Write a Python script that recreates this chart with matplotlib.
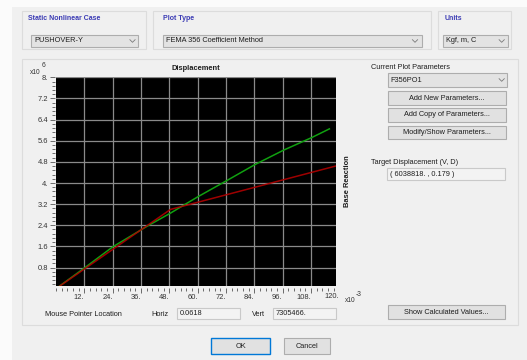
import matplotlib
matplotlib.use("Agg")
import matplotlib.pyplot as plt
from matplotlib.patches import Rectangle
from matplotlib.ticker import FixedLocator, MultipleLocator, FuncFormatter

plt.rcParams['font.family'] = ['Liberation Sans', 'DejaVu Sans']

# ---------------- data ----------------
# Pushover capacity curve (displacement in m, base reaction in kgf)
curve_disp = [0.0, 0.012, 0.024, 0.0389, 0.0487, 0.0537, 0.0603, 0.0725, 0.0843, 0.0963, 0.1083, 0.1158]
curve_shear = [0.0, 0.78e6, 1.58e6, 2.38e6, 2.87e6, 3.14e6, 3.49e6, 4.10e6, 4.70e6, 5.24e6, 5.72e6, 6.05e6]
# FEMA 356 bilinear idealisation
bilin_disp = [0.0, 0.0485, 0.1188]
bilin_shear = [0.0, 3.0e6, 4.65e6]

x_ticks = [12, 24, 36, 48, 60, 72, 84, 96, 108]   # x10^-3
x_extra_tick = 120
y_ticks = [0.8, 1.6, 2.4, 3.2, 4.0, 4.8, 5.6, 6.4, 7.2, 8.0]  # x10^6

case_name = "PUSHOVER-Y"
plot_type = "FEMA 356 Coefficient Method"
units = "Kgf, m, C"
param_name = "F356PO1"
target_text = "( 6038818. , 0.179 )"
horiz_val = "0.0618"
vert_val = "7305466."

W, H = 527, 360
fig = plt.figure(figsize=(W / 100, H / 100), dpi=100)
fig.patch.set_facecolor('#f0f0f0')

bg = fig.add_axes([0, 0, 1, 1])
bg.set_xlim(0, W)
bg.set_ylim(H, 0)
bg.set_axis_off()

FS = 5.3
TXT = '#1e1e1e'
BLUE = '#3a3ab4'


def rect(x0, y0, x1, y1, fc='none', ec='#d9d9d9', lw=0.8, z=1):
    bg.add_patch(Rectangle((x0, y0), x1 - x0, y1 - y0, facecolor=fc,
                           edgecolor=ec, linewidth=lw, zorder=z))


def chevron(x, y):
    bg.plot([x - 2.6, x, x + 2.6], [y - 1.3, y + 1.3, y - 1.3], color='#7a7a7a',
            lw=0.6, zorder=3)


def text(x, y, s, ha='left', color=TXT, size=FS, weight='normal', rot=0, z=4):
    bg.text(x, y, s, ha=ha, va='center', color=color, fontsize=size,
            fontweight=weight, rotation=rot, zorder=z)


# window background strips
rect(0, 0, W, 7, fc='#fbfbfb', ec='none', lw=0, z=0)
rect(0, 0, 12, H, fc='#fbfbfb', ec='none', lw=0, z=0)

# ---------- top group boxes ----------
groups = [(22, 146, "Static Nonlinear Case", 28),
          (153, 431, "Plot Type", 163),
          (438, 511, "Units", 445)]
for x0, x1, lab, lx in groups:
    rect(x0, 11, x1, 49, fc='#f0f0f0', ec='#dcdcdc', z=1)
    text(lx, 18.5, lab, color=BLUE, weight='bold', size=5.0)

combos = [(31, 137.5, case_name, 132.5),
          (162.7, 421.7, plot_type, 415),
          (443.3, 508.3, units, 501.7)]
for x0, x1, s, cx in combos:
    rect(x0, 35, x1, 47, fc='#e3e3e3', ec='#adadad', z=2)
    text(x0 + 3, 41, s)
    chevron(cx, 41)

# ---------- main panel ----------
rect(22, 59, 518, 325, fc='#f0f0f0', ec='#dcdcdc', z=1)

text(371, 67.3, "Current Plot Parameters")
rect(387.7, 73, 506.7, 86.7, fc='#e3e3e3', ec='#adadad', z=2)
text(390, 80, param_name)
chevron(501.7, 80)

buttons = [(91, 105, "Add New Parameters..."),
           (108, 121.7, "Add Copy of Parameters..."),
           (125.7, 139, "Modify/Show Parameters...")]
for y0, y1, s in buttons:
    rect(388, y0, 506, y1, fc='#e1e1e1', ec='#adadad', z=2)
    text(447, (y0 + y1) / 2, s, ha='center')

text(371, 162.7, "Target Displacement (V, D)")
rect(386.7, 168.3, 505, 180, fc='#f3f3f3', ec='#c9c9c9', z=2)
text(390, 174.2, target_text)

rect(388, 305, 505, 319, fc='#e1e1e1', ec='#adadad', z=2)
text(446.5, 312, "Show Calculated Values...", ha='center')

# mouse pointer row
text(45, 314.3, "Mouse Pointer Location")
text(151.7, 314.3, "Horiz")
rect(176.7, 308.3, 240, 319.3, fc='#f3f3f3', ec='#c9c9c9', z=2)
text(180, 313.5, horiz_val)
text(251.7, 314.3, "Vert")
rect(272.7, 308.3, 336, 319.3, fc='#f3f3f3', ec='#c9c9c9', z=2)
text(275.5, 313.5, vert_val)

# OK / Cancel
rect(211, 338, 270, 354, fc='#e1e1e1', ec='#0078d7', lw=1.0, z=2)
text(240.5, 346, "OK", ha='center')
rect(284, 338, 330, 354, fc='#e1e1e1', ec='#adadad', z=2)
text(307, 346, "Cancel", ha='center')

# axis annotations
text(196.3, 68.8, "Displacement", ha='center', weight='bold', size=5.4)
text(347.5, 181.5, "Base Reaction", ha='center', weight='bold', size=5.4, rot=90)
text(30, 72, "x10", size=4.8, color='#333333')
text(41.5, 65.5, "6", size=4.8, color='#333333')
text(344.5, 300.8, "x10", size=4.8, color='#333333')
text(356, 295, "-3", size=4.8, color='#333333')

# ---------------- plot ----------------
xmin, xmax = 0.0, 118.8
ymin, ymax = 0.1, 8.0
px_left, px_right = 56.0, 336.5
px_bottom = 286.0
px_top = px_bottom - (ymax - ymin) * 26.41
ax = fig.add_axes([px_left / W, 1 - px_bottom / H,
                   (px_right - px_left) / W, (px_bottom - px_top) / H])
ax.set_facecolor('black')
ax.set_xlim(xmin, xmax)
ax.set_ylim(ymin, ymax)

ax.plot([d * 1e3 for d in curve_disp], [v / 1e6 for v in curve_shear],
        color='#10a010', lw=1.1, zorder=3)
ax.plot([d * 1e3 for d in bilin_disp], [v / 1e6 for v in bilin_shear],
        color='#b00000', lw=1.1, zorder=4, alpha=0.9)


def fmt(v, pos=None):
    s = f"{v:g}"
    if '.' not in s:
        s += '.'
    return s


ax.xaxis.set_major_locator(FixedLocator(x_ticks))
ax.xaxis.set_minor_locator(MultipleLocator(2.4))
ax.yaxis.set_major_locator(FixedLocator(y_ticks))
ax.yaxis.set_minor_locator(MultipleLocator(0.16))
ax.xaxis.set_major_formatter(FuncFormatter(fmt))
ax.yaxis.set_major_formatter(FuncFormatter(fmt))

ax.grid(True, which='major', color='#8a8a8a', lw=0.9)
ax.set_axisbelow(True)

for sp in ['top', 'right']:
    ax.spines[sp].set_visible(False)
ax.spines['bottom'].set_position(('outward', 1.5))
ax.spines['left'].set_position(('outward', 0.8))
ax.spines['bottom'].set_color('none')
ax.spines['left'].set_color('none')

ax.tick_params(axis='both', which='major', direction='out', length=3.6, width=0.6,
               color='#555555', labelsize=5.4, labelcolor='#333333', pad=1.0)
ax.tick_params(axis='both', which='minor', direction='out', length=2.2, width=0.6,
               color='#555555')
for lbl in ax.get_xticklabels():
    lbl.set_ha('right')

# the 120 label sits just past the right edge of the data range
ax.annotate(fmt(x_extra_tick), xy=(x_extra_tick, 0), xycoords=('data', 'axes fraction'),
            xytext=(0, -4.9), textcoords='offset points', ha='right', va='top',
            fontsize=5.4, color='#333333', annotation_clip=False)

fig.savefig("out.png", dpi=100, facecolor=fig.get_facecolor())
